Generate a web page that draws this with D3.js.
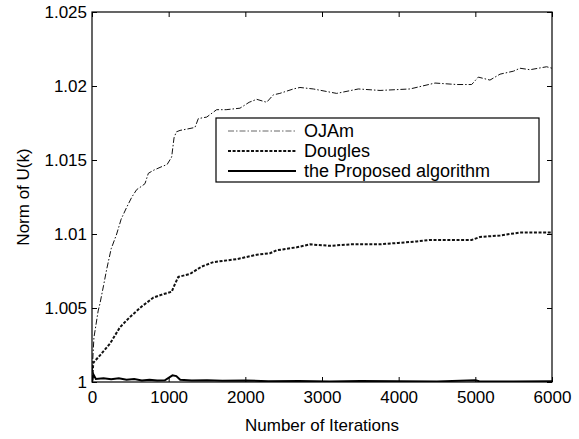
<!DOCTYPE html>
<html>
<head>
<meta charset="utf-8">
<script src="https://cdn.jsdelivr.net/npm/d3@7"></script>
<style>
  body { margin: 0; background: #fff; }
  svg text { font-family: "Liberation Sans", Arial, sans-serif; }
</style>
</head>
<body>
<svg id="chart" width="579" height="439"></svg>
<script>
// iterations / norm values
var ojamIter = [0, 10, 25, 50, 80, 104, 150, 191, 250, 322, 380, 452, 520, 583, 640, 691, 735, 800, 887, 980,
    1039, 1070, 1100, 1148, 1250, 1343, 1387, 1496, 1626, 1750, 1930, 2050, 2148, 2278, 2365, 2450, 2626, 2713,
    2887, 3191, 3474, 3757, 4148, 4474, 4757, 4952, 5039, 5191, 5322, 5496, 5583, 5713, 5930, 6000];
var ojamVals = [1.0, 1.0015, 1.003, 1.0038, 1.0048, 1.0053, 1.0065, 1.0076, 1.009, 1.01, 1.011, 1.0118, 1.0125,
    1.013, 1.0132, 1.0134, 1.0141, 1.0143, 1.0145, 1.0147, 1.0152, 1.0165, 1.0169, 1.017, 1.0171, 1.0172, 1.0178,
    1.0179, 1.0184, 1.0184, 1.0185, 1.0189, 1.0191, 1.0189, 1.0194, 1.0195, 1.0198, 1.0199, 1.0198, 1.0195,
    1.0198, 1.0197, 1.0198, 1.0202, 1.0201, 1.0201, 1.0206, 1.0204, 1.0208, 1.021, 1.0212, 1.0211, 1.0213, 1.0212];

var douglesIter = [0, 17, 104, 235, 365, 496, 648, 800, 909, 1039, 1080, 1126, 1278, 1430, 1583, 1887, 2148,
    2322, 2409, 2670, 2843, 3104, 3365, 3757, 3996, 4235, 4409, 4952, 5061, 5322, 5583, 5800, 6000];
var douglesVals = [1.0, 1.0013, 1.0018, 1.0026, 1.0037, 1.0044, 1.0051, 1.0057, 1.0059, 1.0061, 1.0066, 1.0071,
    1.0073, 1.0078, 1.0081, 1.0083, 1.0086, 1.0087, 1.0089, 1.0091, 1.0093, 1.0092, 1.0093, 1.0093, 1.0094,
    1.0095, 1.0096, 1.0096, 1.0098, 1.0099, 1.0101, 1.0101, 1.0101];

var proposedIter = [0, 20, 50, 150, 250, 350, 450, 550, 650, 750, 850, 950, 1050, 1100, 1150, 1300, 1500, 1700,
    2000, 2300, 2700, 3100, 3500, 4000, 4500, 5000, 5050, 5500, 6000];
var proposedVals = [1.0, 1.0005, 1.0002, 1.00025, 1.00018, 1.00025, 1.00015, 1.0002, 1.0001, 1.00015, 1.0001,
    1.00012, 1.00045, 1.0004, 1.00015, 1.0001, 1.00012, 1.00008, 1.0001, 1.00005, 1.00006, 1.00004, 1.00006,
    1.00005, 1.00004, 1.00012, 1.00005, 1.00004, 1.00005];

var xTicks = [0, 1000, 2000, 3000, 4000, 5000, 6000];
var yTicks = [1, 1.005, 1.01, 1.015, 1.02, 1.025];
var yTickLabels = ["1", "1.005", "1.01", "1.015", "1.02", "1.025"];

var series = [
    {name: "OJAm", iter: ojamIter, vals: ojamVals, width: 1, dash: "6,2,1.5,2", color: "#111"},
    {name: "Dougles", iter: douglesIter, vals: douglesVals, width: 2, dash: "3,1.6", color: "#111"},
    {name: "the Proposed algorithm", iter: proposedIter, vals: proposedVals, width: 2, dash: null, color: "#000"}
];

var svg = d3.select("#chart");
var plotL = 92, plotR = 552, plotT = 12, plotB = 382;

var x = d3.scaleLinear().domain([0, 6000]).range([plotL, plotR]);
var y = d3.scaleLinear().domain([1, 1.025]).range([plotB, plotT]);

var line = d3.line()
    .x(function(d) { return x(d[0]); })
    .y(function(d) { return y(d[1]); });

var g = svg.append("g");

g.append("defs").append("clipPath").attr("id", "clip")
  .append("rect")
    .attr("x", plotL).attr("y", plotT - 2)
    .attr("width", plotR - plotL).attr("height", plotB - plotT + 2);

g.selectAll("path.series")
    .data(series)
  .enter().append("path")
    .attr("class", "series")
    .attr("clip-path", "url(#clip)")
    .attr("fill", "none")
    .attr("stroke", function(s) { return s.color; })
    .attr("stroke-width", function(s) { return s.width; })
    .attr("stroke-dasharray", function(s) { return s.dash; })
    .attr("d", function(s) { return line(s.iter.map(function(k, i) { return [k, s.vals[i]]; })); });

function styleAxis(sel) {
    sel.select(".domain").remove();
    sel.selectAll(".tick line").attr("stroke", "#000");
    sel.selectAll(".tick text")
        .attr("fill", "#000")
        .style("font-size", "17px");
}

g.append("g")
    .attr("transform", "translate(0," + plotB + ")")
    .call(d3.axisBottom(x).tickValues(xTicks).tickSize(-5).tickPadding(9)
        .tickFormat(d3.format("d")))
    .call(styleAxis);

g.append("g")
    .attr("transform", "translate(0," + plotT + ")")
    .call(d3.axisTop(x).tickValues(xTicks).tickSize(-5).tickFormat(""))
    .call(styleAxis);

g.append("g")
    .attr("transform", "translate(" + plotL + ",0)")
    .call(d3.axisLeft(y).tickValues(yTicks).tickSize(-5).tickPadding(5)
        .tickFormat(function(d, i) { return yTickLabels[i]; }))
    .call(styleAxis);

g.append("g")
    .attr("transform", "translate(" + plotR + ",0)")
    .call(d3.axisRight(y).tickValues(yTicks).tickSize(-5).tickFormat(""))
    .call(styleAxis);

g.append("rect")
    .attr("x", plotL).attr("y", plotT)
    .attr("width", plotR - plotL).attr("height", plotB - plotT)
    .attr("fill", "none").attr("stroke", "#000").attr("stroke-width", 1.2);

// axis titles
svg.append("text")
    .attr("x", (plotL + plotR) / 2).attr("y", 431)
    .attr("text-anchor", "middle")
    .style("font-size", "17px")
    .text("Number of Iterations");

svg.append("text")
    .attr("transform", "translate(29," + (plotT + plotB) / 2 + ") rotate(-90)")
    .attr("text-anchor", "middle")
    .style("font-size", "17px")
    .text("Norm of U(k)");

// legend
var legend = svg.append("g").attr("transform", "translate(216,118)");
legend.append("rect")
    .attr("width", 323).attr("height", 64)
    .attr("fill", "#fff").attr("stroke", "#000").attr("stroke-width", 1.2);

var item = legend.selectAll("g.item")
    .data(series)
  .enter().append("g")
    .attr("class", "item")
    .attr("transform", function(s, i) { return "translate(0," + (13 + i * 20) + ")"; });

item.append("line")
    .attr("x1", 12).attr("x2", 80)
    .attr("stroke", function(s, i) { return i === 0 ? "#666" : s.color; })
    .attr("stroke-width", function(s) { return s.width; })
    .attr("stroke-dasharray", function(s) { return s.dash; });

item.append("text")
    .attr("x", 88).attr("dy", "0.35em")
    .style("font-size", "18px")
    .text(function(s) { return s.name; });
</script>
</body>
</html>
